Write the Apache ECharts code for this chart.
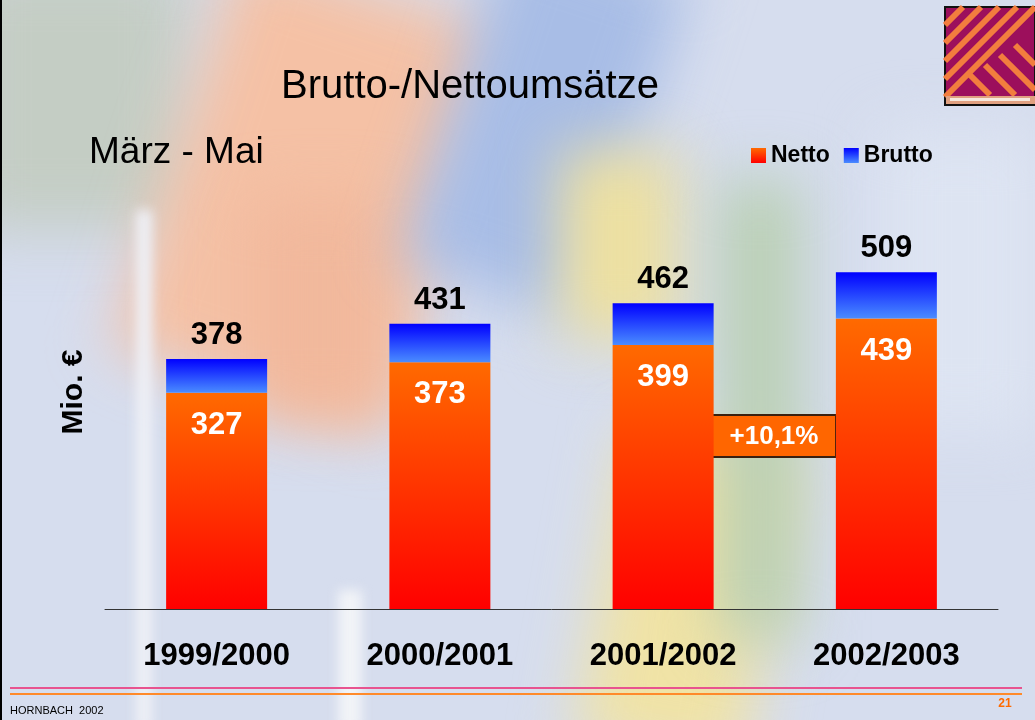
<!DOCTYPE html>
<html><head><meta charset="utf-8">
<script src="https://cdn.jsdelivr.net/npm/echarts@6/dist/echarts.min.js"></script>
<style>
html,body{margin:0;padding:0;width:1035px;height:720px;overflow:hidden;background:#d6ddee;}
#bg{position:absolute;left:0;top:0;width:1035px;height:720px;overflow:hidden;}
#bg div{position:absolute;filter:blur(30px);}
#chart{position:absolute;left:0;top:0;width:1035px;height:720px;}
</style></head><body>
<div id="bg">
  <div style="left:-40px;top:-40px;width:230px;height:270px;background:#c4cdc4;"></div>
  <div style="left:170px;top:-20px;width:280px;height:420px;background:#f5c1a5;transform:rotate(18deg);"></div>
  <div style="left:250px;top:200px;width:140px;height:220px;background:#f1b89c;"></div>
  <div style="left:450px;top:-60px;width:190px;height:360px;background:#a8bde6;transform:rotate(18deg);"></div>
  <div style="left:560px;top:150px;width:120px;height:190px;background:#ede0a0;"></div>
  <div style="left:600px;top:440px;width:170px;height:320px;background:#f0e3a6;transform:rotate(10deg);"></div>
  <div style="left:720px;top:180px;width:80px;height:460px;background:#b9cfb2;"></div>
  <div style="left:880px;top:130px;width:160px;height:300px;background:#dde4f2;"></div>
  <div style="left:136px;top:210px;width:16px;height:520px;background:#eef0f6;filter:blur(6px);"></div>
  <div style="left:338px;top:590px;width:24px;height:140px;background:#f1f3f7;filter:blur(6px);"></div>
</div>
<div id="chart"></div>
<script>
const categories = ['1999/2000', '2000/2001', '2001/2002', '2002/2003'];
const nettoValues = [327, 373, 399, 439];
const bruttoValues = [378, 431, 462, 509];
const growthLabel = '+10,1%';
const bruttoPart = bruttoValues.map((b, i) => b - nettoValues[i]);

const chart = echarts.init(document.getElementById('chart'), null, {renderer: 'canvas'});
const FONT = 'Liberation Sans, Arial, sans-serif';

// logo stripes
const logo = [];
const LX = 945, LY = 7, LW = 90, LH = 89;
logo.push({type: 'rect', shape: {x: LX, y: LY, width: LW, height: LH + 9}, style: {fill: '#9c0f5c', stroke: '#111', lineWidth: 2}});
[18, 36, 54, 72, 90].forEach(k => {
  logo.push({type: 'line', shape: {x1: LX, y1: LY + k, x2: LX + k, y2: LY}, style: {stroke: '#f27d3e', lineWidth: 6}});
});
[[LX + 40, LY + 58, LX + 70, LY + 88], [LX + 55, LY + 48, LX + 90, LY + 83], [LX + 70, LY + 38, LX + 90, LY + 58], [LX + 25, LY + 68, LX + 45, LY + 88]].forEach(s => {
  logo.push({type: 'line', shape: {x1: s[0], y1: s[1], x2: s[2], y2: s[3]}, style: {stroke: '#f27d3e', lineWidth: 6}});
});
logo.push({type: 'rect', shape: {x: LX + 1, y: LY + LH, width: LW - 1, height: 8}, style: {fill: '#e0a080'}});
logo.push({type: 'rect', shape: {x: LX + 5, y: LY + LH + 2, width: LW - 10, height: 3}, style: {fill: '#f6e8dc'}});

chart.setOption({
  animation: false,
  backgroundColor: 'transparent',
  grid: {left: 105, right: 37, top: 212, bottom: 111},
  legend: {
    left: 746, top: 139, icon: 'rect', itemWidth: 15, itemHeight: 15, itemGap: 14,
    textStyle: {fontFamily: FONT, fontWeight: 'bold', fontSize: 23, color: '#000'},
    data: ['Netto', 'Brutto']
  },
  xAxis: {
    type: 'category', data: categories,
    axisLine: {lineStyle: {color: '#333', width: 1}},
    axisTick: {show: false},
    axisLabel: {fontFamily: FONT, fontWeight: 'bold', fontSize: 31, color: '#000', margin: 32}
  },
  yAxis: {type: 'value', min: 0, max: 600, show: false, splitLine: {show: false}},
  series: [
    {
      name: 'Netto', type: 'bar', stack: 'total', barWidth: 101, data: nettoValues,
      itemStyle: {color: new echarts.graphic.LinearGradient(0, 0, 0, 1, [{offset: 0, color: '#ff6a00'}, {offset: 1, color: '#ff0000'}])},
      label: {show: true, position: 'insideTop', distance: 17, color: '#fff', fontFamily: FONT, fontWeight: 'bold', fontSize: 31}
    },
    {
      name: 'Brutto', type: 'bar', stack: 'total', barWidth: 101, data: bruttoPart,
      itemStyle: {color: new echarts.graphic.LinearGradient(0, 0, 0, 1, [{offset: 0, color: '#0000ff'}, {offset: 1, color: '#4a8cff'}])},
      label: {show: true, position: 'top', distance: 8, color: '#000', fontFamily: FONT, fontWeight: 'bold', fontSize: 31,
        formatter: p => String(bruttoValues[p.dataIndex])}
    }
  ],
  graphic: [
    {type: 'line', shape: {x1: 1, y1: 0, x2: 1, y2: 720}, style: {stroke: '#000', lineWidth: 2}},
    {type: 'text', x: 470, y: 87, style: {text: 'Brutto-/Nettoumsätze', font: '40px ' + FONT, fill: '#000', textAlign: 'center', textVerticalAlign: 'middle'}},
    {type: 'text', x: 89, y: 153, style: {text: 'März - Mai', font: '37px ' + FONT, fill: '#000', textAlign: 'left', textVerticalAlign: 'middle'}},
    {type: 'text', x: 74, y: 392, rotation: Math.PI / 2, style: {text: 'Mio. €', font: 'bold 30px ' + FONT, fill: '#000', textAlign: 'center', textVerticalAlign: 'middle'}},
    {type: 'rect', shape: {x: 712, y: 415, width: 124, height: 42}, style: {fill: '#ff6600', stroke: '#3a2010', lineWidth: 2}},
    {type: 'text', x: 774, y: 437, style: {text: growthLabel, font: 'bold 26px ' + FONT, fill: '#fff', textAlign: 'center', textVerticalAlign: 'middle'}},
    {type: 'line', shape: {x1: 10, y1: 688, x2: 1022, y2: 688}, style: {stroke: '#e8538f', lineWidth: 2}},
    {type: 'line', shape: {x1: 10, y1: 694, x2: 1022, y2: 694}, style: {stroke: '#ff8a2a', lineWidth: 2}},
    {type: 'text', x: 10, y: 711, style: {text: 'HORNBACH  2002', font: '11px ' + FONT, fill: '#000', textAlign: 'left', textVerticalAlign: 'middle'}},
    {type: 'text', x: 1005, y: 704, style: {text: '21', font: 'bold 12px ' + FONT, fill: '#ff6a00', textAlign: 'center', textVerticalAlign: 'middle'}},
    {type: 'group', children: logo}
  ]
});
</script>
</body></html>
